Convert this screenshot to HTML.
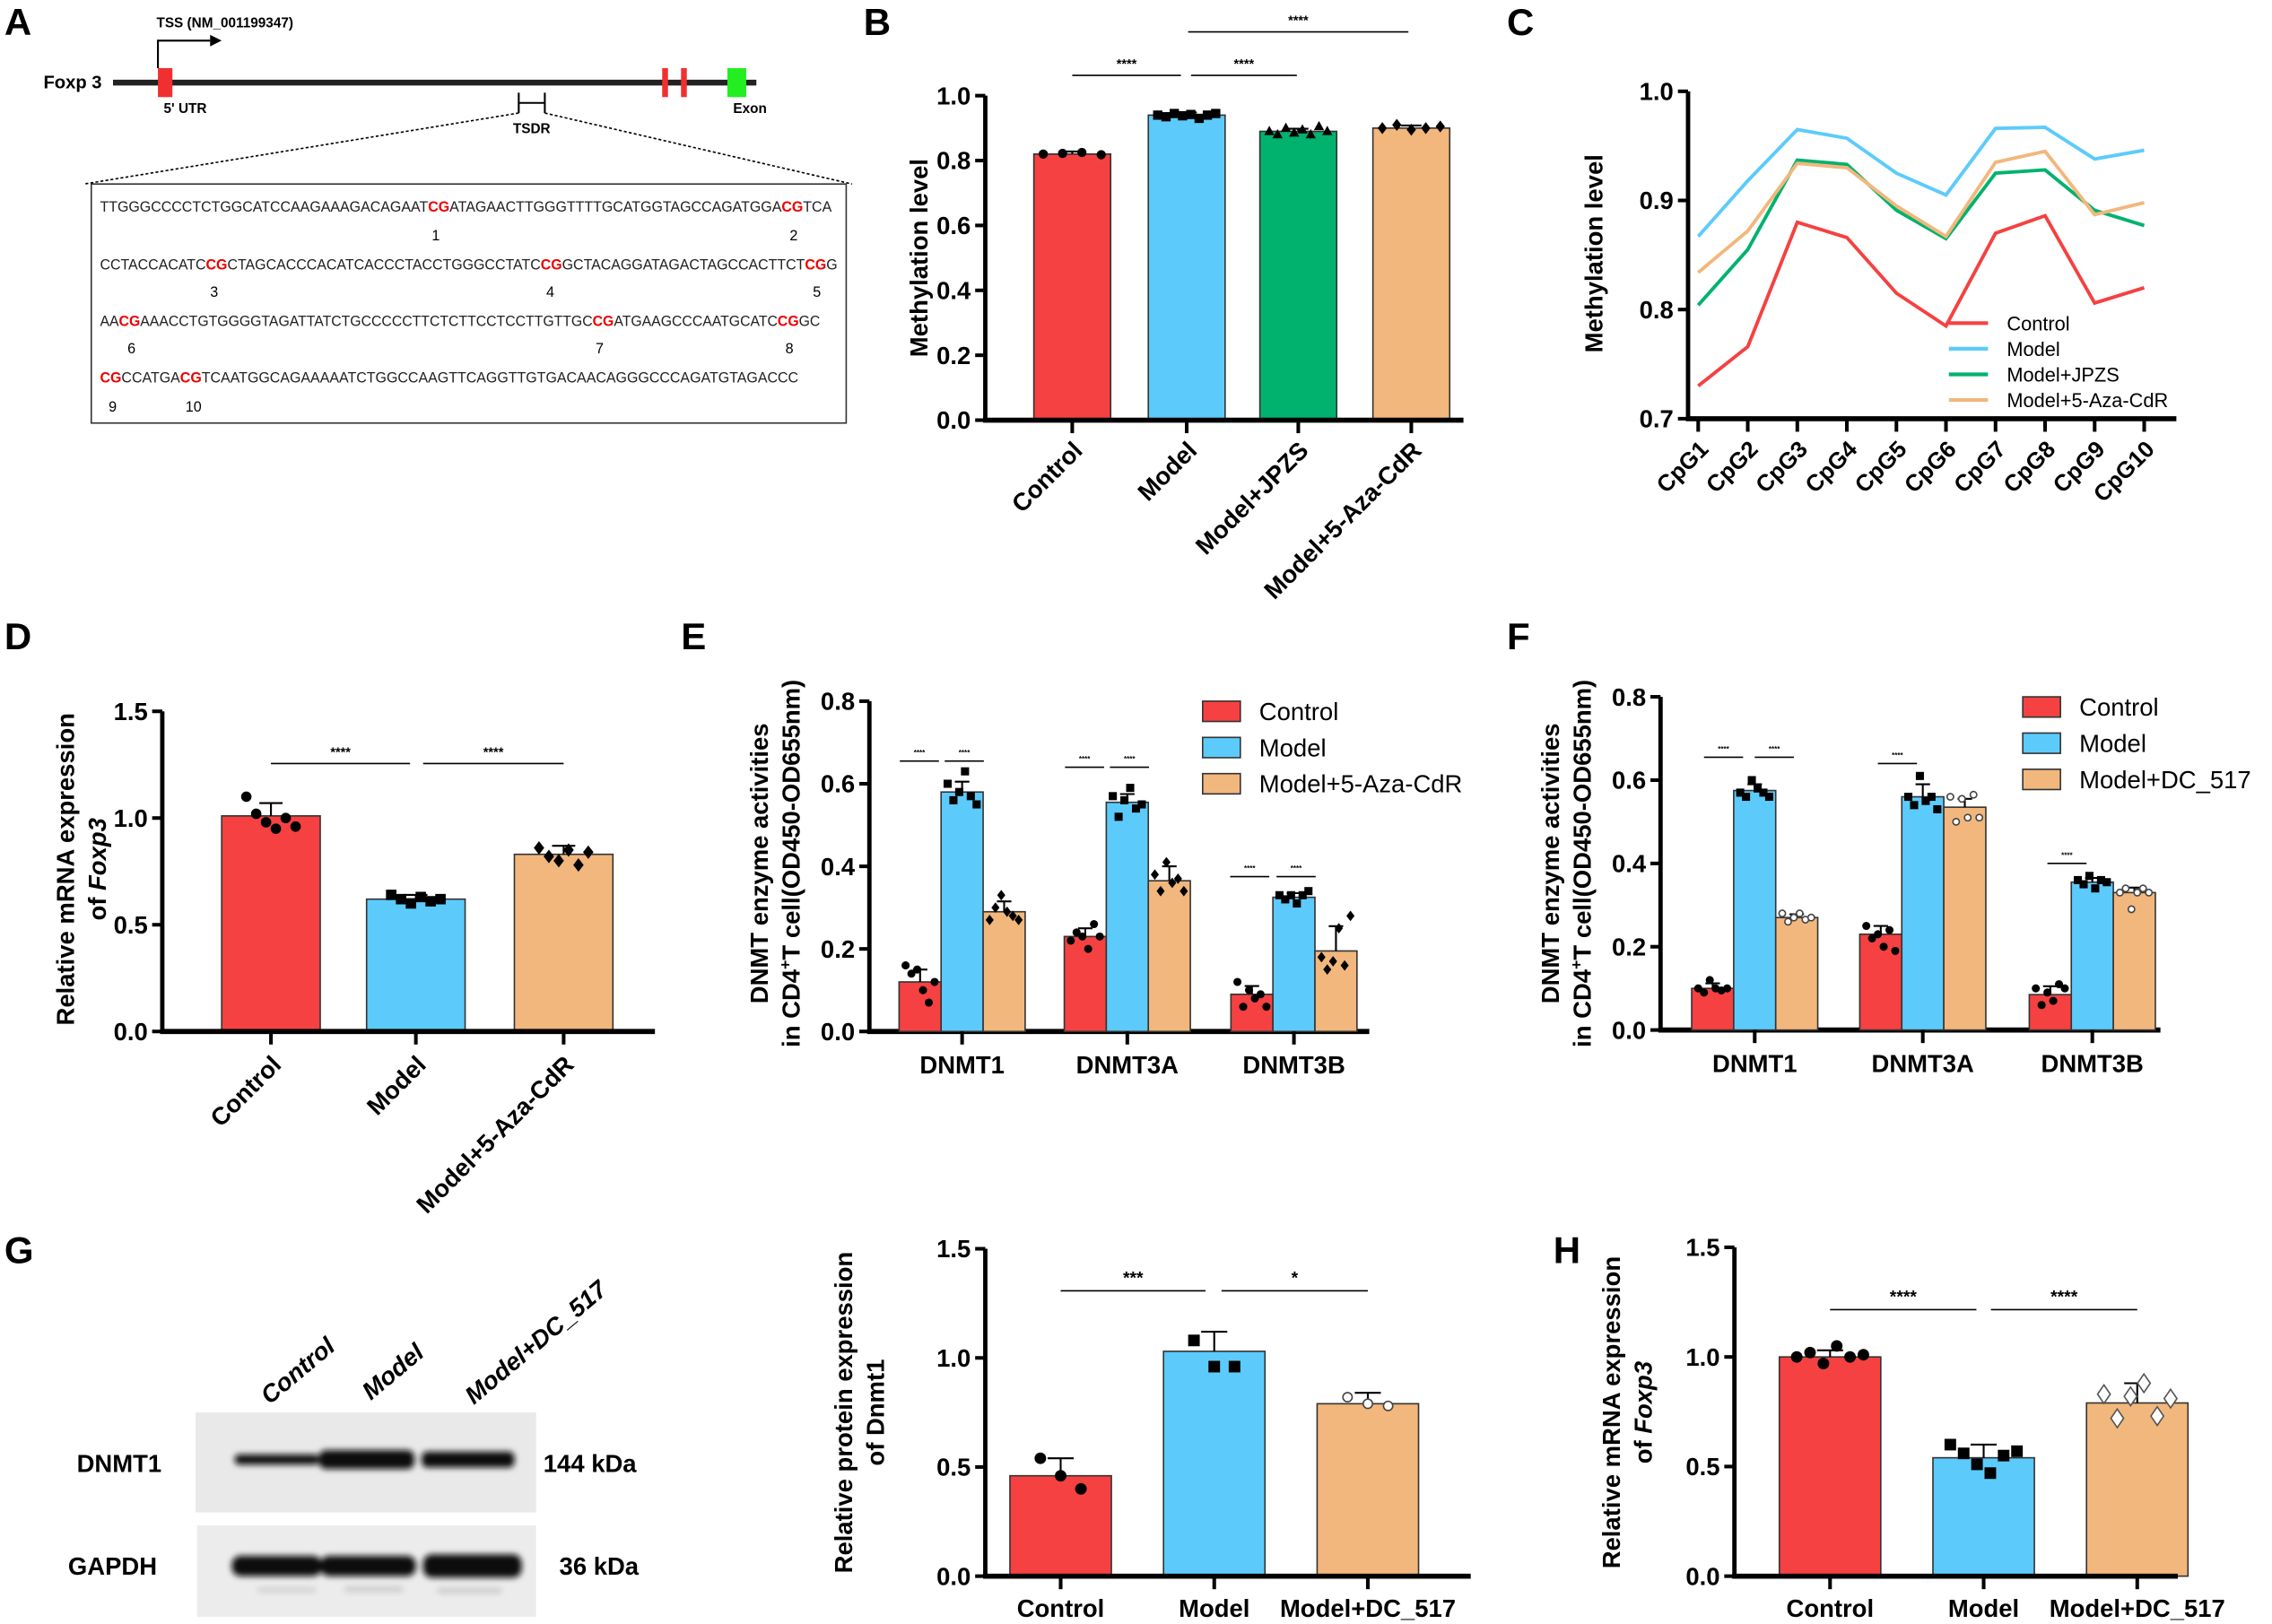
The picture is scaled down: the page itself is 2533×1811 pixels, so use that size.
<!DOCTYPE html>
<html><head><meta charset="utf-8">
<style>
html,body{margin:0;padding:0;background:#fff;}
svg{display:block;}
text{font-family:"Liberation Sans",sans-serif;}
.nar{font-family:"Liberation Sans Narrow","Liberation Sans",sans-serif;font-weight:bold;}
.b{font-weight:bold;}
</style></head>
<body>
<svg id="fig" xmlns="http://www.w3.org/2000/svg" width="2533" height="1811" viewBox="0 0 1568 1121">
<defs><filter id="blur" x="-20%" y="-50%" width="140%" height="200%"><feGaussianBlur stdDeviation="2.2"/></filter></defs>
<!-- panel letters -->
<g class="nar" font-size="26">
<text x="3" y="24">A</text><text x="596" y="24">B</text><text x="1040" y="24">C</text>
<text x="3" y="448">D</text><text x="470" y="448">E</text><text x="1040" y="448">F</text>
<text x="3" y="872">G</text><text x="1072" y="872">H</text>
</g>
<!-- Panel A -->
<g>
<text class="nar" x="30" y="61" font-size="12.5">Foxp 3</text>
<line x1="78" y1="57" x2="522" y2="57" stroke="#222" stroke-width="4"/>
<rect x="109" y="47" width="10" height="20" fill="#f03030"/>
<rect x="457" y="47" width="4" height="20" fill="#f03030"/>
<rect x="470" y="47" width="4" height="20" fill="#f03030"/>
<rect x="502" y="47" width="13" height="20" fill="#22ee22"/>
<polyline points="109,47 109,28 145,28" fill="none" stroke="#000" stroke-width="1.3"/>
<polygon points="145,24 153,28 145,32" fill="#000"/>
<text class="nar" x="108" y="19" font-size="9.5">TSS (NM_001199347)</text>
<text class="nar" x="113" y="78" font-size="9.5">5' UTR</text>
<text class="nar" x="506" y="78" font-size="9.5">Exon</text>
<path d="M358,64 V78 M376,64 V78 M358,71 H376" stroke="#000" stroke-width="1.3" fill="none"/>
<text class="nar" x="354" y="92" font-size="9.5">TSDR</text>
<line x1="358" y1="78" x2="58" y2="127" stroke="#000" stroke-dasharray="2,1.5"/>
<line x1="376" y1="78" x2="588" y2="127" stroke="#000" stroke-dasharray="2,1.5"/>
<rect x="63" y="127" width="521" height="165" fill="none" stroke="#333" stroke-width="1"/>
<g font-size="10" fill="#222">
<text x="69" y="146" textLength="505" lengthAdjust="spacingAndGlyphs">TTGGGCCCCTCTGGCATCCAAGAAAGACAGAAT<tspan fill="#e00" font-weight="bold">CG</tspan>ATAGAACTTGGGTTTTGCATGGTAGCCAGATGGA<tspan fill="#e00" font-weight="bold">CG</tspan>TCA</text>
<text x="69" y="186" textLength="509" lengthAdjust="spacingAndGlyphs">CCTACCACATC<tspan fill="#e00" font-weight="bold">CG</tspan>CTAGCACCCACATCACCCTACCTGGGCCTATC<tspan fill="#e00" font-weight="bold">CG</tspan>GCTACAGGATAGACTAGCCACTTCT<tspan fill="#e00" font-weight="bold">CG</tspan>G</text>
<text x="69" y="225" textLength="497" lengthAdjust="spacingAndGlyphs">AA<tspan fill="#e00" font-weight="bold">CG</tspan>AAACCTGTGGGGTAGATTATCTGCCCCCTTCTCTTCCTCCTTGTTGC<tspan fill="#e00" font-weight="bold">CG</tspan>ATGAAGCCCAATGCATC<tspan fill="#e00" font-weight="bold">CG</tspan>GC</text>
<text x="69" y="264" textLength="482" lengthAdjust="spacingAndGlyphs"><tspan fill="#e00" font-weight="bold">CG</tspan>CCATGA<tspan fill="#e00" font-weight="bold">CG</tspan>TCAATGGCAGAAAAATCTGGCCAAGTTCAGGTTGTGACAACAGGGCCCAGATGTAGACCC</text>
<g font-size="10" fill="#000">
<text x="298" y="166">1</text><text x="545" y="166">2</text>
<text x="145" y="205">3</text><text x="377" y="205">4</text><text x="561" y="205">5</text>
<text x="88" y="244">6</text><text x="411" y="244">7</text><text x="542" y="244">8</text>
<text x="75" y="284">9</text><text x="128" y="284">10</text>
</g></g>
</g>
<!-- Western blot -->
<g>
<rect x="135" y="975" width="235" height="69" fill="#e9e9e9"/>
<rect x="136" y="1053" width="234" height="63" fill="#ececec"/>
<g filter="url(#blur)" fill="#111">
<rect x="162" y="1004" width="58" height="7" rx="3"/>
<rect x="220" y="1001" width="66" height="13" rx="5"/>
<rect x="291" y="1002" width="64" height="11" rx="4"/>
<rect x="160" y="1074" width="62" height="14" rx="6"/>
<rect x="221" y="1074" width="66" height="14" rx="6"/>
<rect x="292" y="1073" width="68" height="16" rx="6"/>
</g>
<g filter="url(#blur)" fill="#ccc"><rect x="178" y="1096" width="40" height="3"/><rect x="238" y="1095" width="40" height="4"/><rect x="302" y="1096" width="44" height="4"/></g>
<g class="nar" font-size="17">
<text x="53" y="1016">DNMT1</text><text x="47" y="1087">GAPDH</text>
<text x="375" y="1016">144 kDa</text><text x="386" y="1087">36 kDa</text>
<text transform="translate(186,970) rotate(-40)" font-style="italic">Control</text>
<text transform="translate(256,967) rotate(-40)" font-style="italic">Model</text>
<text transform="translate(327,970) rotate(-40)" font-style="italic">Model+DC_517</text>
</g>
</g>
<g id="charts"></g>
</svg>
<script>
// ---------- DATA ----------
const bCategories = ["Control","Model","Model+JPZS","Model+5-Aza-CdR"];
const bValues = [0.82,0.94,0.89,0.90];
const bPoints = [[0.82,0.822,0.825,0.818],[0.94,0.935,0.945,0.938,0.942,0.93,0.94,0.945],[0.89,0.88,0.90,0.885,0.895,0.88,0.905,0.89],[0.90,0.91,0.895,0.90,0.905]];
const bTicks = [0,0.2,0.4,0.6,0.8,1.0];
const bTickLabels = ["0.0","0.2","0.4","0.6","0.8","1.0"];

const cCategories = ["CpG1","CpG2","CpG3","CpG4","CpG5","CpG6","CpG7","CpG8","CpG9","CpG10"];
const cSeriesNames = ["Control","Model","Model+JPZS","Model+5-Aza-CdR"];
const cControl = [0.730,0.766,0.880,0.866,0.815,0.785,0.870,0.886,0.806,0.820];
const cModel = [0.867,0.918,0.965,0.957,0.925,0.905,0.966,0.967,0.938,0.946];
const cJPZS = [0.804,0.855,0.937,0.933,0.891,0.865,0.925,0.928,0.891,0.877];
const cAza = [0.834,0.872,0.934,0.930,0.895,0.867,0.935,0.945,0.887,0.898];
const cTicks = [0.7,0.8,0.9,1.0];
const cTickLabels = ["0.7","0.8","0.9","1.0"];

const dCategories = ["Control","Model","Model+5-Aza-CdR"];
const dValues = [1.01,0.62,0.83];
const dSD = [0.06,0.02,0.04];
const dPoints = [[1.10,1.02,0.98,0.95,1.00,0.96],[0.64,0.62,0.60,0.63,0.61,0.62],[0.86,0.82,0.80,0.85,0.78,0.84]];
const dTicks = [0,0.5,1.0,1.5];
const dTickLabels = ["0.0","0.5","1.0","1.5"];

const eGroups = ["DNMT1","DNMT3A","DNMT3B"];
const eSeries = ["Control","Model","Model+5-Aza-CdR"];
const eControl = [0.12,0.23,0.09];
const eModel = [0.58,0.555,0.325];
const eAza = [0.29,0.365,0.195];
const eSD = [[0.03,0.02,0.02],[0.025,0.02,0.01],[0.025,0.035,0.06]];
const ePoints = [
 [[0.16,0.14,0.15,0.10,0.07,0.12],[0.22,0.24,0.23,0.20,0.26,0.23],[0.12,0.06,0.10,0.08,0.09,0.06]],
 [[0.60,0.56,0.58,0.63,0.57,0.55],[0.57,0.52,0.56,0.59,0.54,0.55],[0.33,0.32,0.33,0.31,0.33,0.34]],
 [[0.27,0.30,0.33,0.29,0.28,0.27],[0.38,0.34,0.41,0.36,0.37,0.34],[0.18,0.15,0.17,0.25,0.16,0.28]]];
const eTicks = [0,0.2,0.4,0.6,0.8];
const eTickLabels = ["0.0","0.2","0.4","0.6","0.8"];

const fGroups = ["DNMT1","DNMT3A","DNMT3B"];
const fSeries = ["Control","Model","Model+DC_517"];
const fControl = [0.10,0.23,0.085];
const fModel = [0.575,0.56,0.355];
const fDC = [0.27,0.535,0.33];
const fSD = [[0.012,0.02,0.02],[0.015,0.03,0.01],[0.008,0.02,0.012]];
const fPoints = [
 [[0.10,0.09,0.12,0.10,0.095,0.10],[0.25,0.22,0.23,0.20,0.24,0.19],[0.10,0.06,0.09,0.07,0.11,0.10]],
 [[0.57,0.56,0.60,0.58,0.57,0.56],[0.56,0.54,0.61,0.55,0.56,0.53],[0.36,0.35,0.37,0.34,0.36,0.355]],
 [[0.28,0.26,0.27,0.28,0.265,0.27],[0.56,0.50,0.555,0.51,0.565,0.51],[0.33,0.34,0.29,0.33,0.34,0.33]]];

const gCategories = ["Control","Model","Model+DC_517"];
const gValues = [0.46,1.03,0.79];
const gSD = [0.08,0.09,0.05];
const gPoints = [[0.54,0.46,0.40],[1.08,0.96,0.96],[0.82,0.79,0.78]];
const hCategories = ["Control","Model","Model+DC_517"];
const hValues = [1.0,0.54,0.79];
const hSD = [0.03,0.06,0.09];
const hPoints = [[1.0,1.02,0.97,1.05,1.0,1.01],[0.60,0.56,0.51,0.47,0.55,0.57],[0.83,0.72,0.82,0.88,0.73,0.81]];
const pTicks = [0,0.5,1.0,1.5];
const pTickLabels = ["0.0","0.5","1.0","1.5"];

// ---------- HELPERS ----------
const NS="http://www.w3.org/2000/svg";
const root=document.getElementById('charts');
const RED="#f54141",BLUE="#5ccbfb",GREEN="#00b26e",ORANGE="#f2b77c";
function mk(tag,attrs,parent,txt){const e=document.createElementNS(NS,tag);for(const k in attrs)e.setAttribute(k,attrs[k]);if(txt!==undefined)e.textContent=txt;(parent||root).appendChild(e);return e;}
function scale(min,max,p0,p1){return v=>p0+(v-min)/(max-min)*(p1-p0);}
function yAxis(g,x,y,ticks,labels,fs){
  const ax=mk('line',{x1:x,y1:y(ticks[0])+1.5,x2:x,y2:y(ticks[ticks.length-1]),stroke:'#000','stroke-width':3},g);
  
  
  ticks.forEach((t,i)=>{
    const tk=mk('line',{x1:x-7,y1:y(t),x2:x,y2:y(t),stroke:'#000','stroke-width':2.5},g);
    
    
    const tl=mk('text',{x:x-10,y:y(t)+6,'text-anchor':'end','font-size':fs||18,class:'nar'},g,labels[i]);
    
    
  });
}
function xAxis(g,x0,x1,y0){
  const ax=mk('line',{x1:x0-1.5,y1:y0,x2:x1,y2:y0,stroke:'#000','stroke-width':3.5},g);
  
  
}
function xTick(g,x,y0){
  const t=mk('line',{x1:x,y1:y0,x2:x,y2:y0+9,stroke:'#000','stroke-width':2.5},g);
  
  
}
function yTitle(g,x,cy,lines,fs){
  lines.forEach((l,i)=>{
    const t=mk('text',{transform:`translate(${x+i*(fs+5)},${cy}) rotate(-90)`,'text-anchor':'middle','font-size':fs,class:'b'},g);
    
    
    t.innerHTML=l;
  });
}
function marker(g,type,cx,cy,s){
  let m;
  if(type==='circle') m=mk('circle',{cx,cy,r:s,fill:'#000'},g);
  else if(type==='ocircle') m=mk('circle',{cx,cy,r:s*0.8,fill:'#fff',stroke:'#444','stroke-width':1},g);
  else if(type==='square') m=mk('rect',{x:cx-s,y:cy-s,width:2*s,height:2*s,fill:'#000'},g);
  else if(type==='tri') m=mk('polygon',{points:`${cx},${cy-s*1.2} ${cx-s*1.1},${cy+s*0.8} ${cx+s*1.1},${cy+s*0.8}`,fill:'#000'},g);
  else if(type==='diamond') m=mk('polygon',{points:`${cx},${cy-s*1.3} ${cx+s},${cy} ${cx},${cy+s*1.3} ${cx-s},${cy}`,fill:'#000'},g);
  else m=mk('polygon',{points:`${cx},${cy-s*1.6} ${cx+s*1.1},${cy} ${cx},${cy+s*1.6} ${cx-s*1.1},${cy}`,fill:'#fff',stroke:'#555','stroke-width':1},g);
  
  
}
function bar(g,cx,w,y,v,y0,color,name){
  const r=mk('rect',{x:cx-w/2,y:y(v),width:w,height:y0-y(v),fill:color,stroke:'#333','stroke-width':1},g);
  
  
}
function errBar(g,cx,y,v,sd,cap){
  const e=mk('path',{d:`M${cx},${y(v)} V${y(v+sd)} M${cx-cap},${y(v+sd)} H${cx+cap}`,stroke:'#000','stroke-width':1.3,fill:'none'},g);
  
  
}
function points(g,cx,spread,y,vals,type,s){
  const n=vals.length;
  vals.forEach((v,i)=>{const off=n>1?(i/(n-1)-0.5)*spread:0;marker(g,type,cx+off,y(v),s);});
}
function sig(g,x1,x2,yy,label,fs){
  const l=mk('line',{x1,y1:yy,x2,y2:yy,stroke:'#000','stroke-width':1},g);
  
  
  const t=mk('text',{x:(x1+x2)/2,y:yy-(fs>8?5:4),'text-anchor':'middle','font-size':fs||10,class:'b'},g,label);
  
  
}
function xLabel(g,x,y,txt,rot,fs){
  const t=mk('text',{transform:rot?`translate(${x},${y}) rotate(${rot})`:`translate(${x},${y})`,'text-anchor':rot?'end':'middle','font-size':fs||17,class:'nar'},g,txt);
  
  
}
function group(name){const g=mk('g',{});return g;}

// ---------- PANEL B ----------
(function(){
  const g=group('panel-b-methylation-bar-chart');
  const y0=290, y=scale(0,1,290,66), xs=[740,819,896,974], cols=[RED,BLUE,GREEN,ORANGE], mks=['circle','square','tri','diamond'];
  yAxis(g,680,y,bTicks,bTickLabels,17);
  bCategories.forEach((c,i)=>{
    bar(g,xs[i],53,y,bValues[i],y0,cols[i],'bar-'+c.toLowerCase());
    errBar(g,xs[i],y,bValues[i],0.008,7);
    points(g,xs[i],40,y,bPoints[i],mks[i],3.2);
    xTick(g,xs[i],y0);
    xLabel(g,xs[i]+8,y0+22,c,-45,17);
  });
  xAxis(g,680,1010,y0);
  yTitle(g,640,178,['Methylation level'],17);
  sig(g,740,815,52,'****',9);sig(g,822,895,52,'****',9);sig(g,820,972,22,'****',9);
})();

// ---------- PANEL C ----------
(function(){
  const g=group('panel-c-cpg-line-chart');
  const y=scale(0.7,1.0,289,63), x=i=>1172+i*34.2;
  yAxis(g,1165,y,cTicks,cTickLabels,17);
  xAxis(g,1165,1502,289);
  const series=[cControl,cModel,cJPZS,cAza], cols=[RED,BLUE,GREEN,ORANGE];
  series.forEach((s,si)=>{
    const p=mk('polyline',{points:s.map((v,i)=>x(i)+','+y(v)).join(' '),fill:'none',stroke:cols[si],'stroke-width':2.4,'stroke-linejoin':'miter'},g);
    
    
  });
  cCategories.forEach((c,i)=>{xTick(g,x(i),289);xLabel(g,x(i)+8,311,c,-45,16);});
  yTitle(g,1106,175,['Methylation level'],17);
  cSeriesNames.forEach((n,i)=>{
    const yy=223+i*17.7;
    const l=mk('line',{x1:1345,y1:yy,x2:1372,y2:yy,stroke:cols[i],'stroke-width':2.6},g);
    
    
    const t=mk('text',{x:1385,y:yy+5,'font-size':13.5},g,n);
    
    
  });
})();

// ---------- PANEL D ----------
(function(){
  const g=group('panel-d-foxp3-mrna-chart');
  const y0=712,y=scale(0,1.5,712,491), xs=[187,287,389], cols=[RED,BLUE,ORANGE], mks=['circle','square','diamond'];
  yAxis(g,112,y,dTicks,dTickLabels,17);
  dCategories.forEach((c,i)=>{
    bar(g,xs[i],68,y,dValues[i],y0,cols[i],'bar-'+c.toLowerCase());
    errBar(g,xs[i],y,dValues[i],dSD[i],8);
    points(g,xs[i],34,y,dPoints[i],mks[i],3.6);
    xTick(g,xs[i],y0);
    xLabel(g,xs[i]+8,y0+24,c,-45,17);
  });
  xAxis(g,112,452,y0);
  yTitle(g,51,600,['Relative mRNA expression','of <tspan font-style="italic">Foxp3</tspan>'],17);
  sig(g,187,283,527,'****',9);sig(g,292,389,527,'****',9);
})();

// ---------- PANELS E & F ----------
function groupedChart(name,axX,y0,yTop,groups,series,valsArr,sds,pts,xsArr,legendX,legendTexX,legendY,sigs,mks,titleX){
  const g=group(name);
  const y=scale(0,0.8,y0,yTop), cols=[RED,BLUE,ORANGE];
  yAxis(g,axX,y,eTicks,eTickLabels,17);
  xAxis(g,axX,axX+345,y0);
  groups.forEach((gr,gi)=>{
    for(let s=0;s<3;s++){
      const cx=xsArr[gi]+(s-1)*29;
      bar(g,cx,29,y,valsArr[s][gi],y0,cols[s],'bar-'+gr.toLowerCase()+'-'+series[s].toLowerCase());
      errBar(g,cx,y,valsArr[s][gi],sds[s][gi],5);
      points(g,cx,20,y,pts[s][gi],mks[s],2.8);
    }
    xTick(g,xsArr[gi],y0);
    xLabel(g,xsArr[gi],y0+29,gr,0,17);
  });
  series.forEach((n,i)=>{
    const r=mk('rect',{x:legendX,y:legendY+i*25-7,width:26,height:14,fill:cols[i],stroke:'#333','stroke-width':1},g);
    
    
    const t=mk('text',{x:legendTexX,y:legendY+i*25+6,'font-size':17},g,n);
    
    
  });
  sigs.forEach(s=>sig(g,s[0],s[1],y(s[2]),'****',5));
  yTitle(g,titleX,596,['DNMT enzyme activities','in CD4<tspan baseline-shift="super" font-size="11">+</tspan>T cell(OD450-OD655nm)'],17);
}
groupedChart('panel-e-dnmt-activity-aza',600,712,484,eGroups,eSeries,[eControl,eModel,eAza],eSD,ePoints,[664,778,893],830,869,491,
  [[621,648,0.655],[652,679,0.655],[735,762,0.64],[766,793,0.64],[849,876,0.375],[881,908,0.375]],['circle','square','diamond'],530);
groupedChart('panel-f-dnmt-activity-dc517',1146,711,481,fGroups,fSeries,[fControl,fModel,fDC],fSD,fPoints,[1211,1327,1444],1396,1435,488,
  [[1176,1203,0.655],[1211,1238,0.655],[1296,1323,0.64],[1413,1440,0.4]],['circle','square','ocircle'],1076);

// ---------- PANELS G & H ----------
function simpleBar(name,axX,xEnd,y0,yTop,cats,vals,sds,pts,xs,mks,titles,titleX,sigs){
  const g=group(name);
  const y=scale(0,1.5,y0,yTop), cols=[RED,BLUE,ORANGE];
  yAxis(g,axX,y,pTicks,pTickLabels,17);
  cats.forEach((c,i)=>{
    bar(g,xs[i],70,y,vals[i],y0,cols[i],'bar-'+c.toLowerCase());
    errBar(g,xs[i],y,vals[i],sds[i],9);
    points(g,xs[i],pts[i].length>3?46:28,y,pts[i],mks[i],4);
    xTick(g,xs[i],y0);
    xLabel(g,xs[i],y0+28,c,0,17);
  });
  xAxis(g,axX,xEnd,y0);
  yTitle(g,titleX,975,titles,17);
  sigs.forEach(s=>sig(g,s[0],s[1],s[2],s[3],12));
}
simpleBar('panel-g-dnmt1-protein-chart',680,1015,1088,862,gCategories,gValues,gSD,gPoints,[732,838,944],['circle','square','ocircle'],
  ['Relative protein expression','of Dnmt1'],588,[[732,832,891,'***'],[843,944,891,'*']]);
simpleBar('panel-h-foxp3-mrna-chart',1197,1503,1088,861,hCategories,hValues,hSD,hPoints,[1263,1369,1475],['circle','square','odiamond'],
  ['Relative mRNA expression','of <tspan font-style="italic">Foxp3</tspan>'],1118,[[1263,1364,904,'****'],[1374,1475,904,'****']]);
</script>
</body></html>
